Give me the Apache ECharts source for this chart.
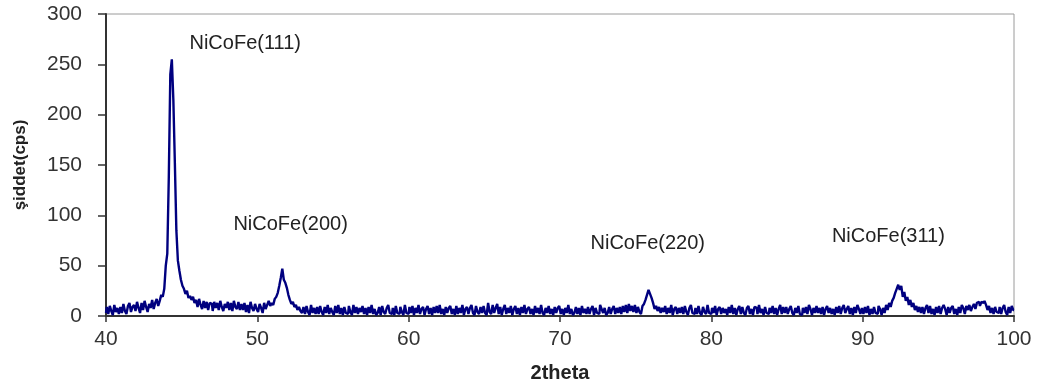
<!DOCTYPE html>
<html>
<head>
<meta charset="utf-8">
<script src="https://cdn.jsdelivr.net/npm/echarts@6/dist/echarts.min.js"></script>
<style>
  html, body { margin: 0; padding: 0; background: #fff; }
  #xrd { width: 1040px; height: 388px; }
</style>
</head>
<body>
<div id="xrd"></div>
<script>
// 2theta scan, 40..100 deg, every 0.1 deg
const thetaStart = 40;
const thetaStep = 0.1;
const intensity = [
  3, 9, 2, 10, 5, 1, 11, 4, 8, 2,       // 40
  9, 3, 12, 5, 2, 10, 13, 4, 9, 11,     // 41
  5, 14, 8, 3, 13, 6, 15, 9, 4, 12,     // 42
  8, 16, 7, 13, 17, 10, 15, 21, 19, 27, // 43
  50, 62, 138, 240, 255, 215, 152, 85, 55, 45, // 44
  36, 30, 27, 22, 25, 18, 20, 16, 19, 13, // 45
  16, 9, 17, 11, 7, 15, 8, 14, 6, 13,   // 46
  12, 5, 14, 8, 13, 6, 15, 9, 5, 12,    // 47
  8, 14, 6, 13, 5, 15, 9, 7, 14, 6,     // 48
  12, 6, 13, 4, 11, 3, 14, 8, 5, 12,    // 49
  7, 4, 12, 8, 3, 13, 7, 11, 15, 10,    // 50
  13, 11, 17, 19, 23, 30, 38, 47, 36, 33, // 51
  28, 21, 16, 12, 14, 9, 11, 6, 9, 5,   // 52
  3, 9, 2, 10, 4, 1, 11, 3, 8, 2,       // 53
  9, 2, 10, 4, 1, 9, 3, 11, 2, 8,       // 54
  4, 1, 10, 3, 11, 2, 8, 1, 9, 3,       // 55
  2, 10, 4, 1, 11, 3, 9, 2, 8, 4,       // 56
  10, 2, 8, 1, 9, 3, 11, 2, 7, 1,       // 57
  3, 9, 1, 10, 4, 2, 8, 11, 3, 2,       // 58
  8, 1, 10, 3, 2, 9, 4, 1, 11, 3,       // 59
  2, 9, 3, 10, 1, 8, 3, 11, 2, 7,       // 60
  9, 1, 7, 10, 2, 8, 1, 9, 3, 10,       // 61
  3, 11, 2, 7, 1, 9, 3, 8, 10, 2,       // 62
  7, 1, 10, 2, 8, 3, 11, 1, 7, 9,       // 63
  2, 8, 11, 3, 1, 10, 4, 2, 9, 3,       // 64
  10, 3, 1, 13, 4, 2, 11, 3, 8, 12,     // 65
  2, 9, 1, 7, 11, 2, 8, 3, 10, 1,       // 66
  7, 10, 2, 8, 1, 9, 3, 11, 2, 7,       // 67
  9, 2, 7, 1, 10, 3, 8, 2, 11, 3,       // 68
  1, 8, 3, 10, 2, 7, 1, 9, 3, 8,        // 69
  10, 2, 7, 1, 8, 3, 11, 2, 7, 1,       // 70
  3, 9, 2, 8, 1, 10, 3, 7, 2, 9,        // 71
  2, 7, 10, 1, 8, 3, 2, 11, 7, 3,       // 72
  8, 1, 3, 9, 2, 7, 10, 2, 8, 3,        // 73
  9, 2, 10, 4, 11, 3, 12, 5, 10, 4,     // 74
  11, 3, 9, 4, 2, 10, 12, 16, 21, 26,   // 75
  22, 18, 13, 7, 10, 5, 9, 3, 8, 4,     // 76
  10, 2, 8, 3, 11, 1, 7, 9, 2, 8,       // 77
  3, 9, 2, 10, 4, 1, 8, 11, 3, 2,       // 78
  8, 2, 10, 3, 1, 9, 4, 2, 11, 3,       // 79
  2, 8, 3, 10, 1, 7, 9, 2, 8, 3,        // 80
  7, 1, 9, 3, 11, 2, 8, 1, 7, 10,       // 81
  2, 9, 3, 1, 8, 10, 2, 7, 1, 9,        // 82
  8, 2, 11, 3, 7, 1, 9, 3, 2, 8,        // 83
  3, 10, 2, 8, 1, 7, 11, 2, 9, 3,       // 84
  9, 2, 7, 10, 3, 1, 8, 3, 10, 2,       // 85
  1, 8, 3, 9, 2, 11, 7, 1, 8, 3,        // 86
  10, 3, 8, 2, 9, 1, 7, 10, 3, 8,       // 87
  2, 7, 1, 9, 3, 10, 2, 8, 11, 3,       // 88
  7, 10, 2, 8, 1, 9, 3, 11, 7, 2,       // 89
  8, 2, 9, 3, 10, 1, 7, 2, 9, 3,        // 90
  2, 10, 7, 1, 8, 3, 11, 6, 13, 9,      // 91
  15, 18, 23, 27, 31, 26, 30, 19, 24, 15, // 92
  19, 11, 16, 9, 13, 6, 10, 4, 9, 3,    // 93
  9, 2, 8, 11, 3, 10, 2, 7, 1, 9,       // 94
  3, 10, 2, 8, 11, 7, 1, 9, 3, 8,       // 95
  10, 2, 7, 1, 9, 3, 11, 8, 2, 10,      // 96
  6, 11, 5, 9, 12, 7, 13, 14, 10, 14,   // 97
  13, 15, 11, 6, 10, 3, 8, 2, 9, 4,     // 98
  3, 9, 2, 8, 11, 4, 1, 9, 3, 10,       // 99
  6                                     // 100
];
const xTicks = [40, 50, 60, 70, 80, 90, 100];
const yTicks = [0, 50, 100, 150, 200, 250, 300];
const peakNames = ['NiCoFe(111)', 'NiCoFe(200)', 'NiCoFe(220)', 'NiCoFe(311)'];

// where the peak names sit, in axis units (2theta, cps)
const peakLabelAt = [[49.2, 271], [52.2, 91], [75.8, 72], [91.7, 79]];

const chart = echarts.init(document.getElementById('xrd'));

const points = intensity.map((v, i) => [+(thetaStart + i * thetaStep).toFixed(1), v]);

const font = '"Liberation Sans", Arial, sans-serif';

const option = {
  animation: false,
  grid: {
    left: 106,
    right: 26,
    top: 14,
    bottom: 72,
    show: true,
    borderColor: '#9a9a9a',
    borderWidth: 1
  },
  xAxis: {
    type: 'value',
    min: xTicks[0],
    max: xTicks[xTicks.length - 1],
    interval: 10,
    name: '2theta',
    nameLocation: 'middle',
    nameGap: 47,
    nameTextStyle: { fontFamily: font, fontSize: 20, fontWeight: 'bold', color: '#222' },
    axisLine: { lineStyle: { color: '#333', width: 2 } },
    axisTick: { inside: false, length: 6, lineStyle: { color: '#333', width: 1.5 } },
    axisLabel: { margin: 13, fontFamily: font, fontSize: 21, color: '#333' },
    splitLine: { show: false }
  },
  yAxis: {
    type: 'value',
    min: yTicks[0],
    max: yTicks[yTicks.length - 1],
    interval: 50,
    name: 'şiddet(cps)',
    nameLocation: 'middle',
    nameRotate: 90,
    nameGap: 77,
    nameTextStyle: { fontFamily: font, fontSize: 17, fontWeight: 'bold', color: '#222' },
    axisLine: { show: true, lineStyle: { color: '#333', width: 2 } },
    axisTick: { show: true, inside: false, length: 8, lineStyle: { color: '#333', width: 1.5 } },
    axisLabel: { margin: 24, fontFamily: font, fontSize: 21, color: '#333' },
    splitLine: { show: false }
  },
  series: [
    {
      type: 'line',
      data: points,
      step: 'middle',
      showSymbol: false,
      symbol: 'none',
      lineStyle: { color: '#00007f', width: 2.4 },
      markPoint: {
        symbol: 'circle',
        symbolSize: 0,
        label: {
          show: true,
          position: 'inside',
          fontFamily: font,
          fontSize: 20,
          color: '#222',
          formatter: p => p.name
        },
        data: peakNames.map((n, i) => ({ name: n, coord: peakLabelAt[i] }))
      },
      z: 3
    }
  ]
};

chart.setOption(option);
</script>
</body>
</html>
